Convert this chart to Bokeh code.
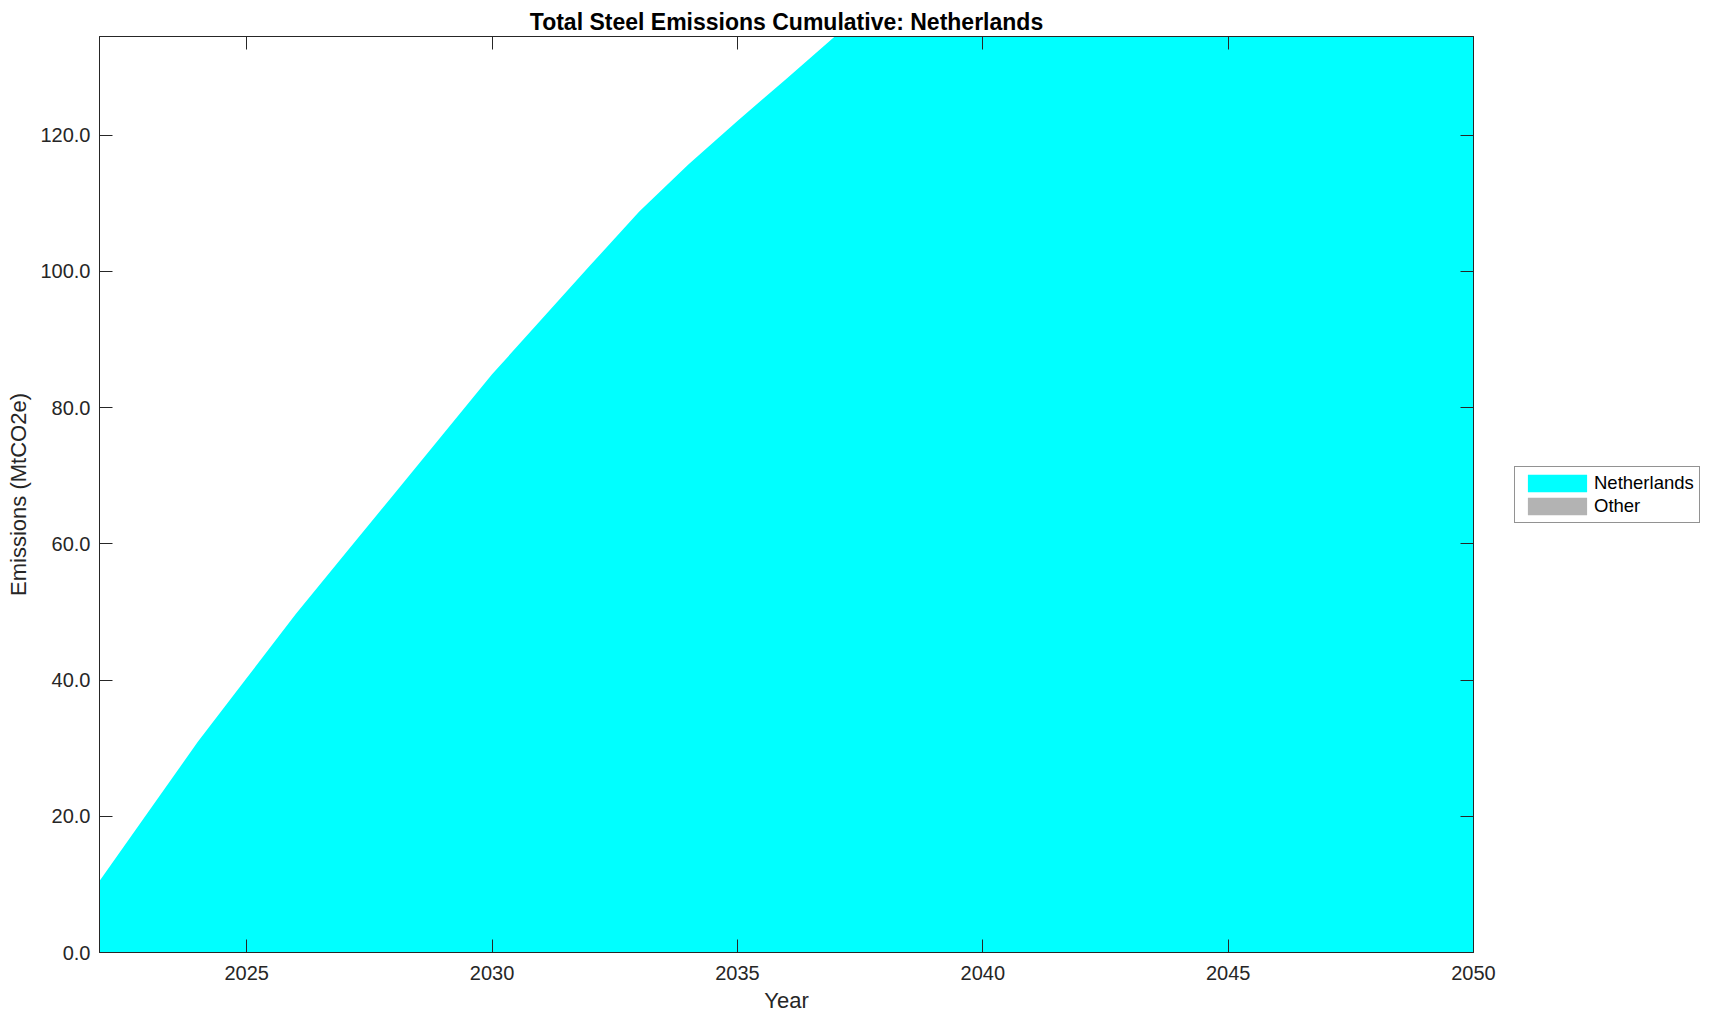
from bokeh.plotting import figure
from bokeh.models import (ColumnDataSource, Range1d, FixedTicker, NumeralTickFormatter,
                          LinearAxis, Legend, LegendItem)
from bokeh.layouts import row
from bokeh.embed import file_html
from bokeh.resources import INLINE

# ---- data ----
years = [2022, 2023, 2024, 2025, 2026, 2027, 2028, 2029, 2030, 2031, 2032, 2033, 2034, 2035,
         2036, 2037, 2038, 2039, 2040, 2041, 2042, 2043, 2044, 2045, 2046, 2047, 2048, 2049, 2050]
netherlands = [10.5, 20.7, 30.9, 40.3, 49.7, 58.5, 67.3, 76.1, 84.9, 92.9, 100.9, 108.8, 115.7,
               122.1, 128.3, 134.6, 140.5, 146.3, 151.9, 157.3, 162.5, 167.5, 172.3, 176.9,
               181.3, 185.5, 189.5, 193.3, 196.9]
other = [0, 0, 0, 0, 0, 0, 0, 0, 0, 0, 0, 0, 0, 0, 0, 0, 0, 0, 0, 0, 0, 0, 0, 0, 0, 0, 0, 0, 0]
series_names = ["Netherlands", "Other"]
series_colors = ["#00ffff", "#b3b3b3"]
x_ticks = [2025, 2030, 2035, 2040, 2045, 2050]
y_ticks = [0, 20, 40, 60, 80, 100, 120]
title_text = "Total Steel Emissions Cumulative: Netherlands"
x_label = "Year"
y_label = "Emissions (MtCO2e)"

FONT = "Liberation Sans"
AX = "#262626"

src = ColumnDataSource(dict(year=years, nl=netherlands, other=other))

p = figure(frame_width=1374, frame_height=916,
           x_range=Range1d(2022, 2050), y_range=Range1d(0, 134.5),
           output_backend="svg", toolbar_location=None,
           min_border_left=99, min_border_top=36, min_border_right=26, min_border_bottom=60,
           background_fill_color="white", border_fill_color="white")

p.varea_stack(stackers=["nl", "other"], x="year", color=series_colors, source=src)

p.xgrid.visible = False
p.ygrid.visible = False
p.outline_line_color = AX
p.outline_line_width = 1

def style_axis(ax, show_labels=True):
    ax.axis_line_color = AX
    ax.major_tick_line_color = AX
    ax.major_tick_in = 13
    ax.major_tick_out = 0
    ax.minor_tick_line_color = None
    ax.major_label_text_font = FONT
    if show_labels:
        ax.major_label_text_color = AX
        ax.major_label_text_font_size = "20px"
    else:
        ax.major_label_text_color = None
        ax.major_label_text_font_size = "1px"
        ax.major_label_standoff = 0

p.xaxis.ticker = FixedTicker(ticks=x_ticks)
p.yaxis.ticker = FixedTicker(ticks=y_ticks)
p.yaxis.formatter = NumeralTickFormatter(format="0.0")
style_axis(p.xaxis[0])
style_axis(p.yaxis[0])
p.xaxis.major_label_standoff = 13
p.yaxis.major_label_standoff = 9

p.xaxis.axis_label = x_label
p.yaxis.axis_label = y_label
for ax in (p.xaxis[0], p.yaxis[0]):
    ax.axis_label_text_font = FONT
    ax.axis_label_text_font_size = "22px"
    ax.axis_label_text_font_style = "normal"
    ax.axis_label_text_color = AX
p.xaxis.axis_label_standoff = 5
p.yaxis.axis_label_standoff = 6

top_axis = LinearAxis(ticker=FixedTicker(ticks=x_ticks))
style_axis(top_axis, show_labels=False)
p.add_layout(top_axis, "above")
right_axis = LinearAxis(ticker=FixedTicker(ticks=y_ticks))
style_axis(right_axis, show_labels=False)
p.add_layout(right_axis, "right")

p.title.text = title_text
p.title.align = "center"
p.title.text_font = FONT
p.title.text_font_size = "23px"
p.title.text_font_style = "bold"
p.title.text_color = "black"
p.title.standoff = 3

# ---- legend panel (separate figure to the right) ----
p2 = figure(frame_width=205, frame_height=916,
            x_range=Range1d(0, 1), y_range=Range1d(0, 1),
            output_backend="svg", toolbar_location=None,
            x_axis_location=None, y_axis_location=None,
            min_border_left=0, min_border_top=36, min_border_right=0, min_border_bottom=60,
            background_fill_color="white", border_fill_color="white")
p2.outline_line_color = None
p2.xgrid.visible = False
p2.ygrid.visible = False
legend_renderers = p2.varea_stack(stackers=["nl", "other"], x="year", color=series_colors, source=src)
for r in legend_renderers:
    r.visible = False

legend = Legend(items=[LegendItem(label=series_names[i], renderers=[legend_renderers[i]]) for i in range(2)],
                location=(15, 429), margin=0, padding=5, spacing=1, click_policy="none",
                glyph_width=74, glyph_height=22, label_height=22, label_standoff=0,
                label_text_font=FONT, label_text_font_size="18.5px", label_text_color="black",
                border_line_color=AX, border_line_width=1, background_fill_color="white",
                background_fill_alpha=1.0)
p2.add_layout(legend, "center")

layout = row(p, p2, spacing=0)
open("out.html", "w").write(file_html(layout, INLINE))
